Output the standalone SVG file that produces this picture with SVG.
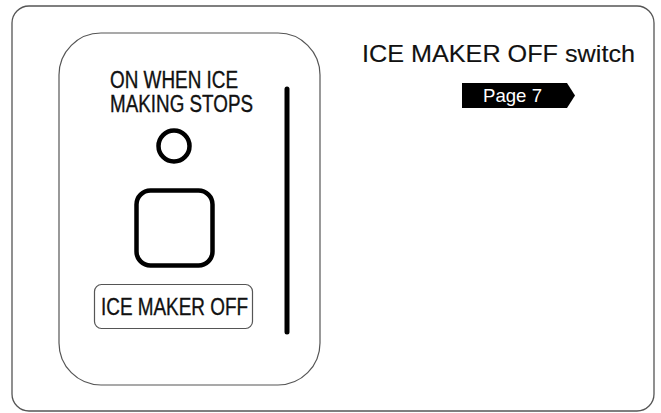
<svg xmlns="http://www.w3.org/2000/svg" width="661" height="413" viewBox="0 0 661 413">
<style>
.frame{fill:#fff;stroke:#555;stroke-width:1.3}
.thin{fill:none;stroke:#555;stroke-width:1.2}
.thick{fill:none;stroke:#000;stroke-width:4.5}
.t{font-family:"Liberation Sans",Arial,sans-serif;fill:#111;stroke:#111;stroke-width:0.35}
.h{font-family:"Liberation Sans",Arial,sans-serif;fill:#111;stroke:#111;stroke-width:0.15}
</style>
<rect x="0" y="0" width="661" height="413" fill="#fff"/>
<g id="frame"><rect class="frame" x="12" y="6" width="642" height="405" rx="17"/></g>
<g id="panel">
<rect class="thin" x="59" y="33" width="261" height="352" rx="42"/>
<text class="t" x="110" y="88" font-size="23.5" textLength="128" lengthAdjust="spacingAndGlyphs">ON WHEN ICE</text>
<text class="t" x="110" y="112" font-size="23.5" textLength="143" lengthAdjust="spacingAndGlyphs">MAKING STOPS</text>
</g>
<g id="lamp"><circle class="thick" cx="174" cy="146" r="15.5" stroke-width="4"/></g>
<g id="button"><rect class="thick" x="136.5" y="190.5" width="76" height="75" rx="14" stroke-width="5"/></g>
<g id="bar"><line x1="287" y1="89" x2="287" y2="332" stroke="#000" stroke-width="5" stroke-linecap="round"/></g>
<g id="label">
<rect class="thin" x="94.5" y="284.5" width="158" height="44" rx="7"/>
<text class="t" x="101" y="315" font-size="24" textLength="147" lengthAdjust="spacingAndGlyphs">ICE MAKER OFF</text>
</g>
<g id="title">
<text class="h" x="362" y="62" font-size="24.5" textLength="273" lengthAdjust="spacingAndGlyphs">ICE MAKER OFF switch</text>
</g>
<g id="page">
<polygon points="462,83 567,83 575,95.5 567,108 462,108" fill="#000"/>
<text x="483" y="102" font-size="18.5" font-family="Liberation Sans,Arial,sans-serif" fill="#fff" textLength="59" lengthAdjust="spacingAndGlyphs">Page 7</text>
</g>
</svg>
